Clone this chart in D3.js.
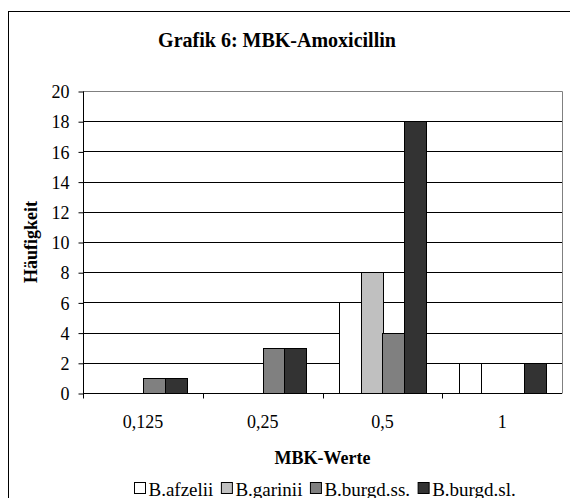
<!DOCTYPE html>
<html>
<head>
<meta charset="utf-8">
<script src="https://cdn.jsdelivr.net/npm/d3@7"></script>
<style>
  html, body { margin: 0; padding: 0; background: #fff; }
  svg { display: block; }
  text { font-family: "Liberation Serif", "Times New Roman", serif; fill: #000; }
</style>
</head>
<body>
<svg id="chart" width="570" height="498"></svg>
<script>
// MBK values (categories on the x axis)
const categories = ["0,125", "0,25", "0,5", "1"];
// Borrelia species shown as series
const seriesNames = ["B.afzelii", "B.garinii", "B.burgd.ss.", "B.burgd.sl."];
const seriesColors = ["#ffffff", "#c0c0c0", "#808080", "#333333"];
// Frequencies per series, one entry per category
const afzelii = [0, 0, 6, 2];
const garinii = [0, 0, 8, 0];
const burgdSs = [1, 3, 4, 0];
const burgdSl = [1, 3, 18, 2];
const yTicks = [0, 2, 4, 6, 8, 10, 12, 14, 16, 18, 20];

const values = [afzelii, garinii, burgdSs, burgdSl];

const svg = d3.select("#chart");

// outer chart frame
svg.append("rect")
  .attr("x", 8.5).attr("y", 11.5)
  .attr("width", 600).attr("height", 600)
  .attr("fill", "#fff").attr("stroke", "#000").attr("stroke-width", 1);

// title
svg.append("text")
  .attr("x", 277).attr("y", 47)
  .attr("text-anchor", "middle")
  .style("font-weight", "bold").style("font-size", "20px")
  .text("Grafik 6: MBK-Amoxicillin");

const plot = { left: 83, right: 562, top: 91, bottom: 393 };

const x0 = d3.scaleBand().domain(categories).range([plot.left, plot.right]).padding(0);
const x1 = d3.scaleBand().domain(seriesNames).range([0, x0.bandwidth()])
  .paddingInner(0).paddingOuter(0.75);
const y = d3.scaleLinear().domain([0, 20]).range([plot.bottom, plot.top]);

const px = v => Math.round(v) + 0.5;

// horizontal gridlines
svg.append("g").selectAll("line")
  .data(yTicks.filter(t => t > 0 && t < 20))
  .join("line")
  .attr("x1", plot.left).attr("x2", plot.right)
  .attr("y1", d => px(y(d))).attr("y2", d => px(y(d)))
  .attr("stroke", "#000").attr("stroke-width", 1);

// plot area border (top and right)
svg.append("path")
  .attr("d", `M${plot.left},${px(plot.top)}H${px(plot.right)}V${px(plot.bottom)}`)
  .attr("fill", "none").attr("stroke", "#808080").attr("stroke-width", 1);

// bars
const groups = svg.append("g").selectAll("g")
  .data(categories)
  .join("g");

groups.selectAll("rect")
  .data((c, ci) => seriesNames.map((s, si) => ({ s, si, v: values[si][ci], c })))
  .join("rect")
  .filter(d => d.v > 0)
  .attr("x", d => px(x0(d.c) + x1(d.s)))
  .attr("y", d => px(y(d.v)))
  .attr("width", d => Math.round(x1.bandwidth()))
  .attr("height", d => Math.round(y(0)) - Math.round(y(d.v)))
  .attr("fill", d => seriesColors[d.si])
  .attr("stroke", "#000").attr("stroke-width", 1);

// y axis
const yAxis = d3.axisLeft(y).tickValues(yTicks).tickSize(5).tickPadding(9).tickFormat(d3.format("d"));
const gy = svg.append("g").attr("transform", `translate(${px(plot.left)},0.5)`).call(yAxis);
gy.select(".domain").attr("stroke", "#000").attr("d", `M0,${Math.round(plot.top)}V${Math.round(plot.bottom)}`);
gy.selectAll(".tick line").attr("stroke", "#000");
gy.selectAll(".tick text")
  .style("font-family", "'Liberation Serif', serif").style("font-size", "18px")
  .attr("dy", "0.34em");

// x axis: category labels centered, ticks on category boundaries
const gx = svg.append("g").attr("transform", `translate(0,${px(plot.bottom)})`);
gx.append("line")
  .attr("x1", plot.left).attr("x2", plot.right)
  .attr("stroke", "#000");
const boundaries = categories.map(c => x0(c));
gx.selectAll(".bt").data(boundaries).join("line")
  .attr("class", "bt")
  .attr("x1", d => px(d)).attr("x2", d => px(d))
  .attr("y1", 0).attr("y2", 5)
  .attr("stroke", "#000");
gx.selectAll(".lbl").data(categories).join("text")
  .attr("class", "lbl")
  .attr("x", d => x0(d) + x0.bandwidth() / 2)
  .attr("y", 34)
  .attr("text-anchor", "middle")
  .style("font-size", "18px")
  .text(d => d);

// axis titles
svg.append("text")
  .attr("x", (plot.left + plot.right) / 2).attr("y", 464)
  .attr("text-anchor", "middle")
  .style("font-weight", "bold").style("font-size", "18px")
  .text("MBK-Werte");

svg.append("text")
  .attr("transform", `translate(37,${(plot.top + plot.bottom) / 2}) rotate(-90)`)
  .attr("text-anchor", "middle")
  .style("font-weight", "bold").style("font-size", "18px")
  .text("Häufigkeit");

// legend
const legend = svg.append("g");
const items = legend.selectAll("g").data(seriesNames).join("g");
items.append("rect")
  .attr("width", 11).attr("height", 11)
  .attr("y", -13)
  .attr("fill", (d, i) => seriesColors[i])
  .attr("stroke", "#000").attr("stroke-width", 1);
items.append("text")
  .attr("x", 14).attr("y", 0)
  .style("font-size", "19px")
  .text(d => d);
let cx = 0;
items.each(function () {
  const w = 14 + this.querySelector("text").getComputedTextLength();
  d3.select(this).attr("transform", `translate(${cx},0)`);
  cx += w + 8;
});
const totalW = cx - 8;
legend.attr("transform", `translate(${Math.round(325 - totalW / 2) + 0.5},495.5)`);
</script>
</body>
</html>
